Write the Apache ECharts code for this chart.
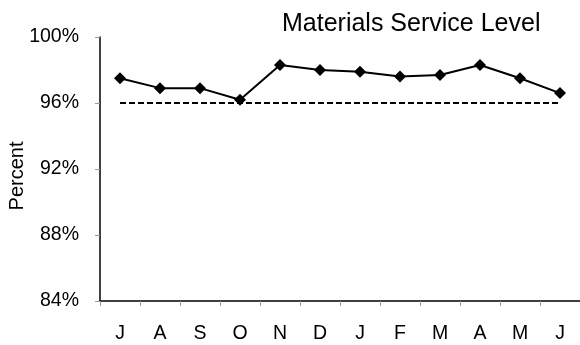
<!DOCTYPE html>
<html>
<head>
<meta charset="utf-8">
<script src="https://cdn.jsdelivr.net/npm/echarts@6/dist/echarts.min.js"></script>
<style>
  html, body { margin: 0; padding: 0; background: #fff; }
  #chart { width: 580px; height: 345px; }
</style>
</head>
<body>
<div id="chart"></div>
<script>
// months, July to June
const months = ['J', 'A', 'S', 'O', 'N', 'D', 'J', 'F', 'M', 'A', 'M', 'J']
// service level, percent
const serviceLevel = [97.5, 96.9, 96.9, 96.2, 98.3, 98.0, 97.9, 97.6, 97.7, 98.3, 97.5, 96.6]
// target line
const target = months.map(() => 96)
const yTicks = [84, 88, 92, 96, 100]

const font = '"Liberation Sans", Arial, sans-serif'

const chart = echarts.init(document.getElementById('chart'))
chart.setOption({
  animation: false,
  title: {
    text: 'Materials Service Level',
    left: 277,
    top: 7,
    textStyle: { fontFamily: font, fontSize: 25, fontWeight: 'normal', color: '#000' }
  },
  // y axis title sits a little below the plot middle, so it is placed by hand
  graphic: [{
    type: 'text',
    x: 17,
    y: 176,
    rotation: Math.PI / 2,
    style: {
      text: 'Percent',
      font: '20px ' + font,
      fill: '#000',
      align: 'center',
      verticalAlign: 'middle'
    }
  }],
  grid: { left: 100, right: 0, top: 37, bottom: 44 },
  xAxis: {
    type: 'category',
    data: months,
    boundaryGap: true,
    axisLine: { lineStyle: { color: '#000', width: 1.5 } },
    axisTick: { show: true, length: 5, lineStyle: { color: '#999' } },
    axisLabel: { margin: 23, fontFamily: font, fontSize: 19.5, color: '#000' }
  },
  yAxis: {
    type: 'value',
    min: yTicks[0],
    max: yTicks[yTicks.length - 1],
    interval: 4,
    axisLine: { show: true, lineStyle: { color: '#000', width: 1.5 } },
    axisTick: { show: true, length: 5, lineStyle: { color: '#999' } },
    splitLine: { show: false },
    axisLabel: {
      margin: 21,
      fontFamily: font,
      fontSize: 19.5,
      color: '#000',
      formatter: v => v + '%'
    }
  },
  series: [
    {
      type: 'line',
      data: target,
      symbol: 'none',
      lineStyle: { color: '#000', width: 2, type: [6, 3] },
      z: 1
    },
    {
      type: 'line',
      data: serviceLevel,
      symbol: 'diamond',
      symbolSize: 12,
      itemStyle: { color: '#000' },
      lineStyle: { color: '#000', width: 2 },
      z: 2
    }
  ]
})
</script>
</body>
</html>
